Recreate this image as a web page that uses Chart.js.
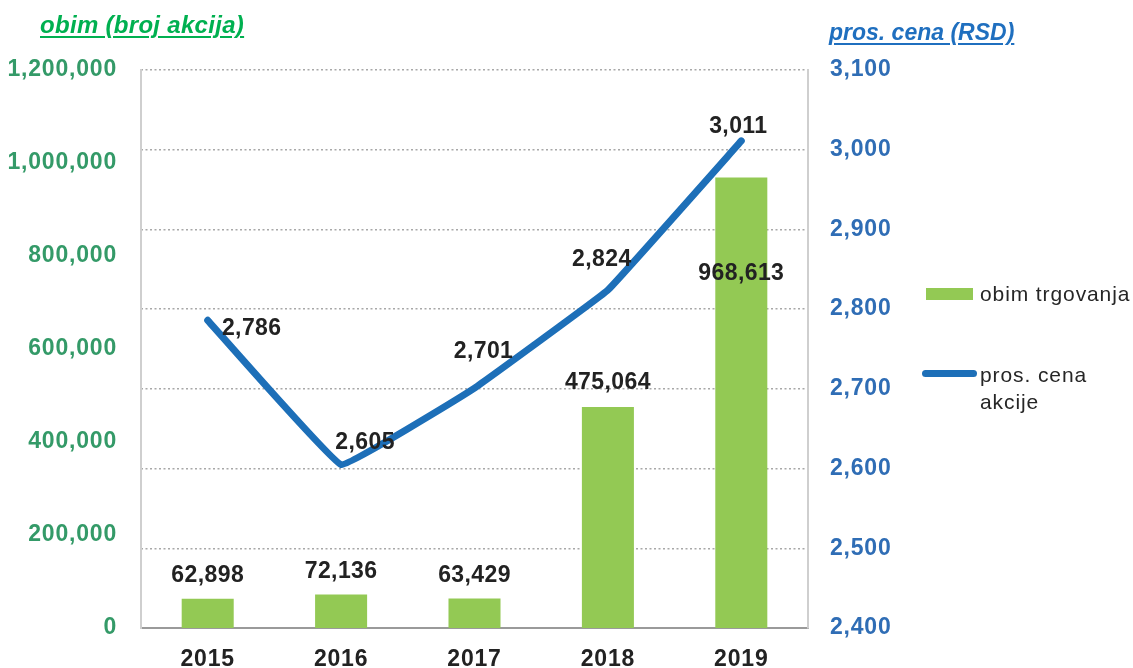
<!DOCTYPE html>
<html>
<head>
<meta charset="utf-8">
<script src="https://cdn.jsdelivr.net/npm/chart.js@4/dist/chart.umd.min.js"></script>
<style>
  html, body { margin: 0; padding: 0; background: #fff; }
  #wrap { position: relative; width: 1133px; height: 668px; overflow: hidden; }
  canvas { position: absolute; left: 0; top: 0; }
  .t { position: absolute; white-space: nowrap; font-family: "Liberation Sans", Arial, sans-serif; }
  .title { font-size: 23px; font-weight: bold; font-style: italic; text-decoration: underline; text-underline-offset: 3px; text-decoration-thickness: 2px; }
  .leg { font-size: 21px; color: #262626; line-height: 27px; letter-spacing: 0.9px; }
</style>
</head>
<body>
<div id="wrap">
  <canvas id="c" width="1133" height="668"></canvas>
  <div class="t title" style="left:40px; top:11px; color:#00b050; font-size:24px; letter-spacing:0.3px;">obim (broj akcija)</div>
  <div class="t title" style="left:829px; top:19px; color:#1f6fbf;">pros. cena (RSD)</div>
  <div style="position:absolute; left:926px; top:288px; width:47px; height:12px; background:#93c954;"></div>
  <div class="t leg" style="left:980px; top:280px;">obim trgovanja</div>
  <div style="position:absolute; left:922px; top:370px; width:55px; height:7px; border-radius:4px; background:#1d6fb8;"></div>
  <div class="t leg" style="left:980px; top:361px;">pros. cena<br>akcije</div>
</div>
<script>
const years = ['2015', '2016', '2017', '2018', '2019'];
const volume = [62898, 72136, 63429, 475064, 968613];
const avgPrice = [2786, 2605, 2701, 2824, 3011];
const volumeTicks = [0, 1200000, 200000];   // min, max, step
const priceTicks = [2400, 3100, 100];        // min, max, step

// label offsets (px) relative to the mark
const volumeLabelOffset = [[0, -23], [0, -23], [0, -23], [0, -24], [0, 96]];
const priceLabelOffset = [[44, 8], [24, -22], [9, -36], [-6, -30], [-3, -14]];

const fmt = v => v.toLocaleString('en-US');
const FONT = '"Liberation Sans", Arial, sans-serif';

const spacingPlugin = {
  id: 'spacing',
  beforeLayout(chart) { chart.ctx.letterSpacing = '0.8px'; },
  beforeDraw(chart) { chart.ctx.letterSpacing = '0.8px'; }
};

const labelPlugin = {
  id: 'valueLabels',
  afterDatasetsDraw(chart) {
    const ctx = chart.ctx;
    ctx.save();
    ctx.letterSpacing = '0.4px';
    ctx.font = 'bold 23px ' + FONT;
    ctx.fillStyle = '#222222';
    ctx.textAlign = 'center';
    ctx.textBaseline = 'middle';
    chart.data.datasets.forEach((ds, i) => {
      const meta = chart.getDatasetMeta(i);
      const offs = ds.type === 'line' ? priceLabelOffset : volumeLabelOffset;
      meta.data.forEach((el, j) => {
        ctx.fillText(fmt(ds.data[j]), el.x + offs[j][0], el.y + offs[j][1]);
      });
    });
    ctx.restore();
  }
};

new Chart(document.getElementById('c'), {
  data: {
    labels: years,
    datasets: [
      {
        type: 'line',
        label: 'pros. cena akcije',
        data: avgPrice,
        yAxisID: 'y1',
        borderColor: '#1d6fb8',
        borderWidth: 7,
        pointRadius: 0,
        tension: 0.06,
        borderCapStyle: 'round',
        borderJoinStyle: 'round',
        order: 0
      },
      {
        type: 'bar',
        label: 'obim trgovanja',
        data: volume,
        yAxisID: 'y',
        backgroundColor: '#93c954',
        categoryPercentage: 1,
        barPercentage: 0.39,
        order: 1
      }
    ]
  },
  options: {
    responsive: false,
    devicePixelRatio: 1,
    animation: false,
    layout: { padding: { top: 70, left: 0, right: 0, bottom: 0 } },
    plugins: { legend: { display: false }, tooltip: { enabled: false } },
    scales: {
      x: {
        grid: { display: false, drawTicks: false },
        border: { color: '#9a9a9a', width: 2 },
        ticks: { color: '#222222', font: { family: FONT, size: 23, weight: 'bold' }, padding: 18 },
        afterFit(s) { s.height = 40; }
      },
      y: {
        position: 'left',
        min: volumeTicks[0], max: volumeTicks[1],
        grid: { display: false, drawTicks: false },
        border: { color: '#cfcfcf', width: 2 },
        ticks: { stepSize: volumeTicks[2], color: '#349a68', font: { family: FONT, size: 23, weight: 'bold' }, padding: 24, callback: v => fmt(v) },
        afterFit(s) { s.width = 141; }
      },
      y1: {
        position: 'right',
        min: priceTicks[0], max: priceTicks[1],
        grid: { color: '#a8a8a8', lineWidth: 1.5, drawTicks: false },
        border: { color: '#cfcfcf', width: 2, dash: [2, 2.5] },
        ticks: { stepSize: priceTicks[2], color: '#2f6db5', font: { family: FONT, size: 23, weight: 'bold' }, padding: 22, callback: v => fmt(v) },
        afterFit(s) { s.width = 325; }
      }
    }
  },
  plugins: [spacingPlugin, labelPlugin]
});
</script>
</body>
</html>
